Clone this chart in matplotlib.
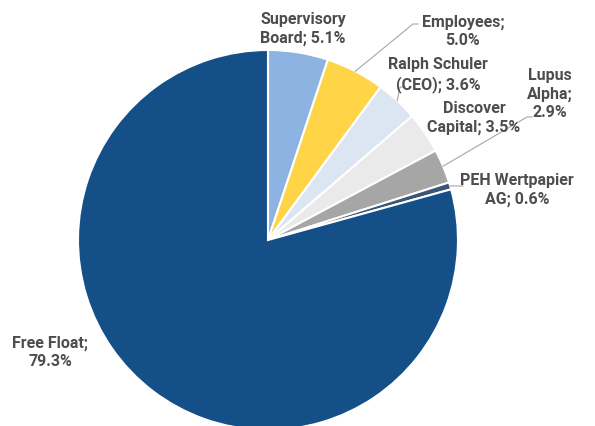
import numpy as np
import matplotlib.pyplot as plt

# shareholder structure
holders = ['Supervisory\nBoard', 'Employees', 'Ralph Schuler\n(CEO)', 'Discover\nCapital',
           'Lupus\nAlpha', 'PEH Wertpapier\nAG', 'Free Float']
shares = [5.1, 5.0, 3.6, 3.5, 2.9, 0.6, 79.3]
label_text = ['Supervisory\nBoard; 5.1%', 'Employees;\n5.0%', 'Ralph Schuler\n(CEO); 3.6%',
              'Discover\nCapital; 3.5%', 'Lupus\nAlpha;\n2.9%', 'PEH Wertpapier\nAG; 0.6%',
              'Free Float;\n79.3%']
colors = ['#8DB3E2', '#FFD447', '#DCE6F2', '#EAEAEA', '#A6A6A6', '#3B5576', '#145087']

plt.rcParams['font.family'] = ['Roboto', 'DejaVu Sans']

fig = plt.figure(figsize=(5.95, 4.27), dpi=100)
ax = fig.add_axes([0, 0, 1, 1])

cx, cy, r = 268, 186, 190
ax.pie(shares, colors=colors, startangle=90, counterclock=False, center=(cx, cy), radius=r,
       wedgeprops=dict(edgecolor='white', linewidth=1.5), frame=True)
ax.set_xlim(0, 595)
ax.set_ylim(0, 427)
ax.set_aspect('equal')
ax.axis('off')

# label centres (pixels from bottom-left) and leader line end points
label_pos = [(303, 398), (463, 396), (438, 352), (474, 309), (550, 333), (517, 237), (50, 75)]
leader_end = [None, (413, 402), (400, 339), None, (527, 309), (458, 240), None]

# mid angle of each wedge
edges = 90 - np.cumsum([0] + shares) * 3.6
mids = (edges[:-1] + edges[1:]) / 2

for i, txt in enumerate(label_text):
    ax.text(label_pos[i][0], label_pos[i][1], txt, ha='center', va='center',
            fontsize=11.5, fontweight='bold', color='#4D4D4D', linespacing=1.25)
    if leader_end[i] is not None:
        a = np.deg2rad(mids[i])
        sx, sy = cx + r * np.cos(a), cy + r * np.sin(a)
        ex, ey = leader_end[i]
        ax.plot([sx, ex, ex + 5], [sy, ey, ey], color='#A6A6A6', lw=0.8)

fig.savefig('out.png', dpi=100)
